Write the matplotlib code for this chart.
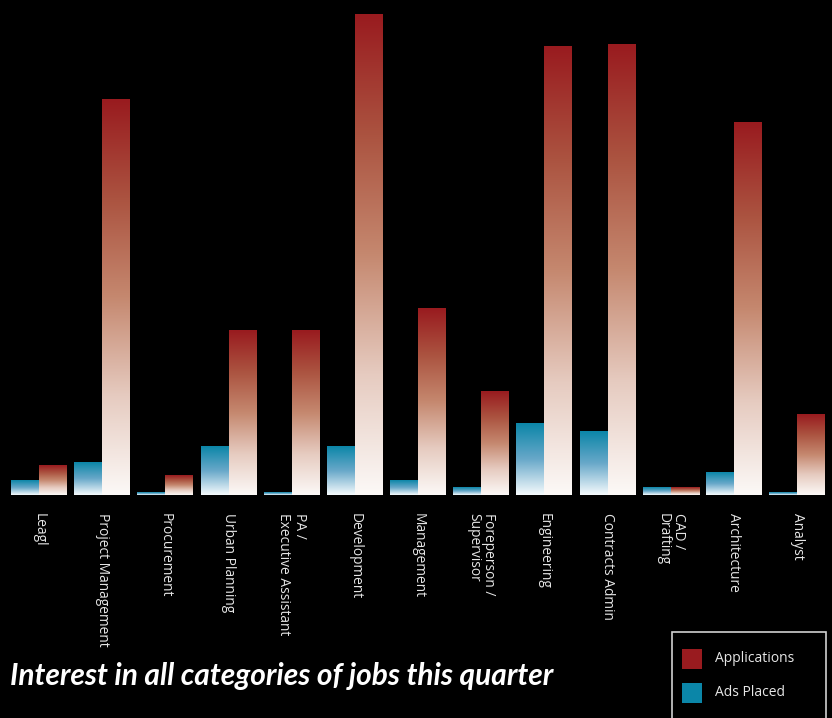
import numpy as np
import matplotlib
matplotlib.use("Agg")
import matplotlib.pyplot as plt
from matplotlib.colors import LinearSegmentedColormap
from matplotlib.patches import Rectangle

categories = ["Leagl", "Project Management", "Procurement", "Urban Planning",
              "PA /\nExecutive Assistant", "Development", "Management",
              "Foreperson /\nSupervisor", "Engineering", "Contracts Admin",
              "CAD /\nDrafting", "Architecture", "Analyst"]
ads_placed = [15, 33, 3, 48, 3, 48, 15, 8, 71, 63, 8, 23, 3]
applications = [30, 396, 20, 164, 164, 481, 186, 103, 449, 451, 8, 373, 80]

title = "Interest in all categories of jobs this quarter"
series_names = ["Applications", "Ads Placed"]
red_top = "#991b1f"
blue_top = "#0b86a8"

red_cmap = LinearSegmentedColormap.from_list(
    "red", [(0, "#fcf9f7"), (0.25, "#e6cbc0"), (0.5, "#c5886f"),
            (0.75, "#ab5340"), (1, red_top)])
blue_cmap = LinearSegmentedColormap.from_list(
    "blue", [(0, "#f6fbfd"), (0.5, "#68a8c9"), (1, blue_top)])

fig = plt.figure(figsize=(8.32, 7.18), dpi=100, facecolor="black")
ax = fig.add_axes([0, (718 - 495) / 718, 1, 495 / 718], facecolor="black")

bw = 28 / 63.17
grad = np.linspace(0, 1, 256).reshape(-1, 1)
for i, (a, b) in enumerate(zip(ads_placed, applications)):
    ax.imshow(grad, extent=(i, i + bw, 0, a), origin="lower", aspect="auto",
              cmap=blue_cmap, interpolation="bilinear", zorder=2)
    ax.imshow(grad, extent=(i + bw, i + 2 * bw, 0, b), origin="lower", aspect="auto",
              cmap=red_cmap, interpolation="bilinear", zorder=3)

ax.set_xlim(-11 / 63.17, (832 - 11) / 63.17)
ax.set_ylim(0, 495)
for s in ax.spines.values():
    s.set_visible(False)
ax.set_yticks([])
ax.set_xticks([i + bw for i in range(len(categories))])
ax.set_xticklabels(categories, rotation=270, ha="center", va="top",
                   multialignment="left", color="#e6e6e6", fontsize=9.9,
                   linespacing=1.05, family=["Open Sans", "DejaVu Sans"])
ax.tick_params(axis="x", length=0, pad=13)

fig.text(10 / 832, 1 - 676 / 718, title, color="white", fontsize=21.5,
         fontweight="bold", fontstyle="italic", ha="left", va="center",
         family=["Lato", "DejaVu Sans"])

# legend box
fig.patches.append(Rectangle((672 / 832, 1 - 730 / 718), 154 / 832, 98 / 718,
                             transform=fig.transFigure, facecolor="black",
                             edgecolor="#d0d0d0", linewidth=1.2))
for k, (name, col) in enumerate(zip(series_names, [red_top, blue_top])):
    yc = [659, 693][k]
    fig.patches.append(Rectangle((682 / 832, 1 - (yc + 10) / 718), 20 / 832, 20 / 718,
                                 transform=fig.transFigure, facecolor=col,
                                 edgecolor="none"))
    fig.text(715 / 832, 1 - yc / 718, name, color="#e6e6e6", fontsize=10,
             ha="left", va="center", family=["Open Sans", "DejaVu Sans"])

fig.savefig("out.png", dpi=100, facecolor="black")
